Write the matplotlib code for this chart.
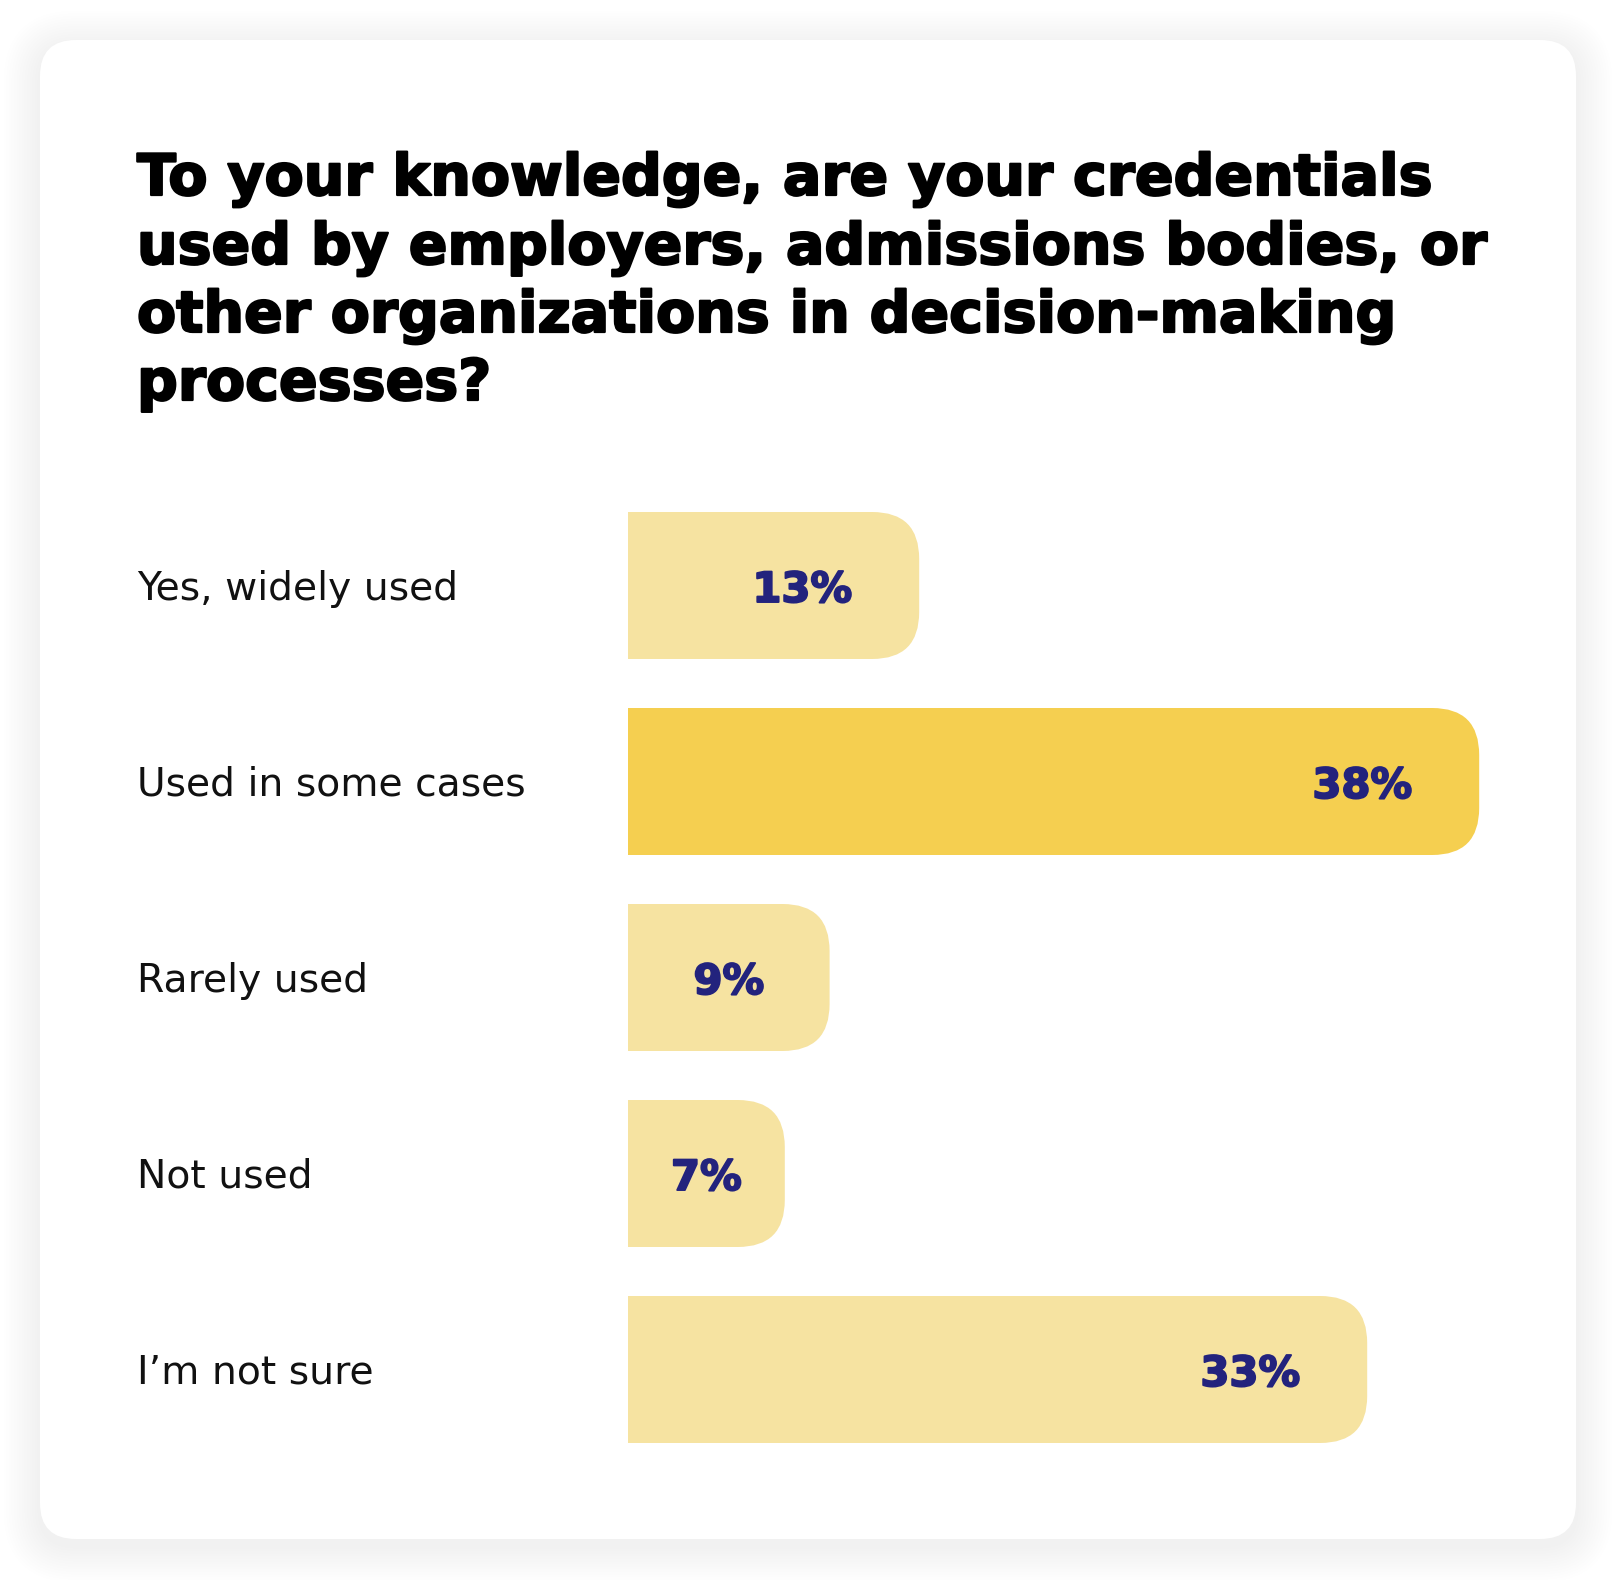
import matplotlib
matplotlib.use("Agg")
import matplotlib.pyplot as plt
import matplotlib.patheffects as path_effects
from matplotlib.patches import FancyBboxPatch

# dados do gráfico
categorias = ["Yes, widely used", "Used in some cases", "Rarely used", "Not used", "I\u2019m not sure"]
valores = [13, 38, 9, 7, 33]
rotulos = ["13%", "38%", "9%", "7%", "33%"]
destaque = [False, True, False, False, False]
titulo = ["To your knowledge, are your credentials",
          "used by employers, admissions bodies, or",
          "other organizations in decision-making",
          "processes?"]

W, H = 1616, 1580
DPI = 100
fig = plt.figure(figsize=(W / DPI, H / DPI), dpi=DPI, facecolor="white")
renderer = fig.canvas.get_renderer()


def ajusta_largura(txt, largura_px):
    # escala o tamanho da fonte para o texto ocupar a largura desejada
    w = txt.get_window_extent(renderer=renderer).width
    txt.set_fontsize(txt.get_fontsize() * largura_px / w)
    return txt.get_fontsize()


# fundo em pixels (cartão + sombra)
bg = fig.add_axes([0, 0, 1, 1])
bg.set_xlim(0, W)
bg.set_ylim(H, 0)
bg.axis("off")

cx0, cy0, cx1, cy1 = 40, 40, 1576, 1539
raio = 36
for k in range(14, 0, -1):
    i = k * 2.6
    sombra = FancyBboxPatch((cx0 - i, cy0 - i + 7), (cx1 - cx0) + 2 * i, (cy1 - cy0) + 2 * i,
                            boxstyle=f"round,pad=0,rounding_size={raio + i}",
                            facecolor="#000000", edgecolor="none", alpha=1.3 / 255, zorder=1)
    bg.add_patch(sombra)
cartao = FancyBboxPatch((cx0, cy0), cx1 - cx0, cy1 - cy0,
                        boxstyle=f"round,pad=0,rounding_size={raio}",
                        facecolor="white", edgecolor="none", zorder=2)
bg.add_patch(cartao)

fonte = "DejaVu Sans"
negrito = [path_effects.Stroke(linewidth=1.6, foreground="black"), path_effects.Normal()]

# título, linha por linha
base_y = [195, 264, 332, 400]
linhas = []
for linha, y in zip(titulo, base_y):
    t = bg.text(137, y, linha, fontsize=40, fontweight="bold", family=fonte,
                color="black", ha="left", va="baseline", zorder=3)
    t.set_path_effects(negrito)
    linhas.append(t)
tam_titulo = ajusta_largura(linhas[0], 1294)
for t in linhas[1:]:
    t.set_fontsize(tam_titulo)

# eixo das barras
x_esq = 628
px_por_pct = 22.4
passo = 196
topo = 512
alt_barra = 147
n = len(valores)
ax_top = topo - (passo - alt_barra) / 2
ax_bot = ax_top + passo * n
ax_right = W - 40
ax = fig.add_axes([x_esq / W, 1 - ax_bot / H, (ax_right - x_esq) / W, (ax_bot - ax_top) / H])
ax.set_xlim(0, (ax_right - x_esq) / px_por_pct)
ax.set_ylim(n - 0.5, -0.5)
ax.axis("off")
ax.patch.set_alpha(0)

h = alt_barra / passo
rx = 47 / px_por_pct
aspecto = px_por_pct / passo

cor_clara = "#F6E3A1"
cor_forte = "#F5CF50"
cor_texto = "#23237D"
negrito_pct = [path_effects.Stroke(linewidth=1.4, foreground=cor_texto), path_effects.Normal()]

for i, (v, lab, d) in enumerate(zip(valores, rotulos, destaque)):
    cor = cor_forte if d else cor_clara
    ax.barh(i, v - rx, height=h, left=0, color=cor, edgecolor="none", zorder=2)
    caixa = FancyBboxPatch((0, i - h / 2), v, h,
                           boxstyle=f"round,pad=0,rounding_size={rx}",
                           mutation_aspect=aspecto,
                           facecolor=cor, edgecolor="none", zorder=2)
    ax.add_patch(caixa)
    if v < 10:
        # barras curtas: rótulo centrado
        a = ax.annotate(lab, (v / 2, i), ha="center", va="center_baseline", fontsize=30,
                        fontweight="bold", family=fonte, color=cor_texto, zorder=3)
    else:
        a = ax.annotate(lab, (v, i), xytext=(-67 * 0.72, 0), textcoords="offset points",
                        ha="right", va="center_baseline", fontsize=30, fontweight="bold",
                        family=fonte, color=cor_texto, zorder=3)
    a.set_path_effects(negrito_pct)

# rótulos das categorias
rot = []
for i, c in enumerate(categorias):
    yc = topo + alt_barra / 2 + i * passo
    t = bg.text(137, yc + 14, c, fontsize=27, family=fonte, color="#111111",
                ha="left", va="baseline", zorder=3)
    rot.append(t)
tam_rot = ajusta_largura(rot[1], 389)
for t in rot:
    t.set_fontsize(tam_rot)

fig.savefig("out.png", dpi=DPI, facecolor="white")
